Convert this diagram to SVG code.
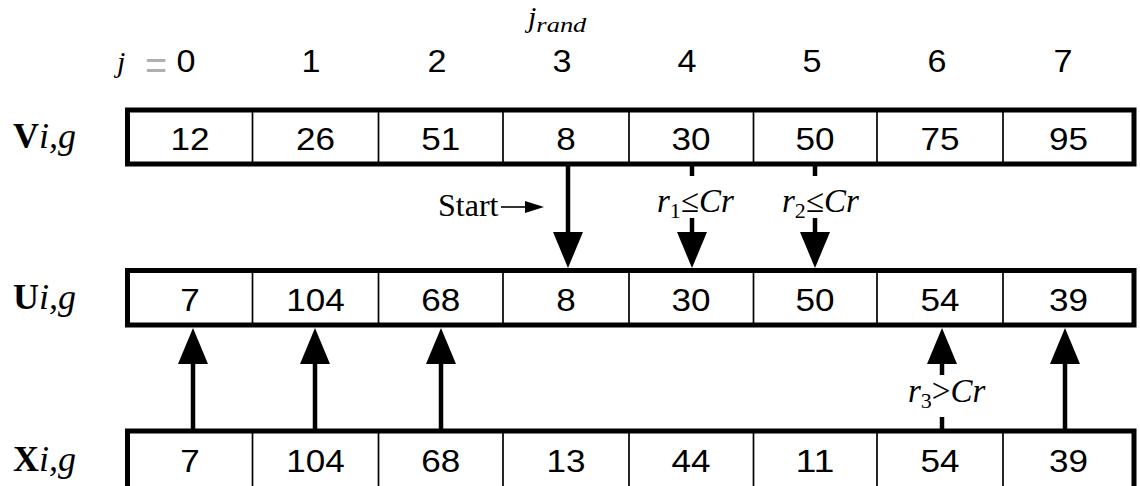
<svg xmlns="http://www.w3.org/2000/svg" width="1140" height="486" viewBox="0 0 1140 486">
  <style>
    .num { font-family: "Liberation Sans", Arial, sans-serif; font-size: 32px; fill: #000; text-anchor: middle; }
    .col { font-family: "Liberation Sans", Arial, sans-serif; font-size: 31px; fill: #000; text-anchor: middle; }
    .serif { font-family: "Liberation Serif", "Times New Roman", serif; fill: #000; }
    .it { font-style: italic; }
    .bd { font-weight: bold; }
    .frame { fill: #fff; stroke: #000; stroke-width: 5; }
    .div { stroke: #000; stroke-width: 1.7; }
    .shaft { stroke: #000; stroke-width: 4.5; fill: none; }
    .thin { stroke: #000; stroke-width: 1.6; fill: none; }
  </style>
  <defs>
    <marker id="head" viewBox="0 0 36 30" refX="4" refY="15" markerWidth="36" markerHeight="30" markerUnits="userSpaceOnUse" orient="auto">
      <path d="M0,0 L36,15 L0,30 Z" fill="#000"/>
    </marker>
    <marker id="small" viewBox="0 0 19 12" refX="2" refY="6" markerWidth="19" markerHeight="12" markerUnits="userSpaceOnUse" orient="auto">
      <path d="M0,0 L19,6 L0,12 Z" fill="#000"/>
    </marker>
  </defs>

  <!-- column indices -->
  <g id="indices">
    <text class="serif it" x="117" y="72" font-size="30">j</text>
    <text x="145" y="79" font-family="Liberation Sans, Arial, sans-serif" font-size="40" fill="#b0b0b0" textLength="22" lengthAdjust="spacingAndGlyphs">=</text>
    <text class="col" x="186" y="72" textLength="19" lengthAdjust="spacingAndGlyphs">0</text>
    <text class="col" x="311" y="72" textLength="19" lengthAdjust="spacingAndGlyphs">1</text>
    <text class="col" x="437" y="72" textLength="19" lengthAdjust="spacingAndGlyphs">2</text>
    <text class="col" x="562" y="72" textLength="19" lengthAdjust="spacingAndGlyphs">3</text>
    <text class="col" x="687" y="72" textLength="19" lengthAdjust="spacingAndGlyphs">4</text>
    <text class="col" x="812" y="72" textLength="19" lengthAdjust="spacingAndGlyphs">5</text>
    <text class="col" x="937" y="72" textLength="19" lengthAdjust="spacingAndGlyphs">6</text>
    <text class="col" x="1063" y="72" textLength="19" lengthAdjust="spacingAndGlyphs">7</text>
    <text class="serif it" x="528" y="27" font-size="30">j<tspan font-size="22" dy="5" textLength="50" lengthAdjust="spacingAndGlyphs">rand</tspan></text>
  </g>

  <!-- row V -->
  <g id="rowV">
    <text class="serif" x="13" y="148" font-size="36"><tspan class="bd">V</tspan><tspan class="it">i,g</tspan></text>
    <rect class="frame" x="127.5" y="110" width="1006.5" height="54"/>
    <path class="div" d="M252.5,110V164M378.5,110V164M503,110V164M629,110V164M753.5,110V164M877,110V164M1003,110V164"/>
    <text class="num" x="190" y="150" textLength="39" lengthAdjust="spacingAndGlyphs">12</text>
    <text class="num" x="315.5" y="150" textLength="39" lengthAdjust="spacingAndGlyphs">26</text>
    <text class="num" x="440.75" y="150" textLength="39" lengthAdjust="spacingAndGlyphs">51</text>
    <text class="num" x="566" y="150" textLength="19.5" lengthAdjust="spacingAndGlyphs">8</text>
    <text class="num" x="691" y="150" textLength="39" lengthAdjust="spacingAndGlyphs">30</text>
    <text class="num" x="815" y="150" textLength="39" lengthAdjust="spacingAndGlyphs">50</text>
    <text class="num" x="940" y="150" textLength="39" lengthAdjust="spacingAndGlyphs">75</text>
    <text class="num" x="1068.5" y="150" textLength="39" lengthAdjust="spacingAndGlyphs">95</text>
  </g>

  <!-- row U -->
  <g id="rowU">
    <text class="serif" x="13" y="309" font-size="36"><tspan class="bd">U</tspan><tspan class="it">i,g</tspan></text>
    <rect class="frame" x="127.5" y="270.5" width="1006.5" height="54.5"/>
    <path class="div" d="M252.5,270.5V325M378.5,270.5V325M503,270.5V325M629,270.5V325M753.5,270.5V325M877,270.5V325M1003,270.5V325"/>
    <text class="num" x="190" y="310.5" textLength="19.5" lengthAdjust="spacingAndGlyphs">7</text>
    <text class="num" x="315.5" y="310.5" textLength="58.5" lengthAdjust="spacingAndGlyphs">104</text>
    <text class="num" x="440.75" y="310.5" textLength="39" lengthAdjust="spacingAndGlyphs">68</text>
    <text class="num" x="566" y="310.5" textLength="19.5" lengthAdjust="spacingAndGlyphs">8</text>
    <text class="num" x="691" y="310.5" textLength="39" lengthAdjust="spacingAndGlyphs">30</text>
    <text class="num" x="815" y="310.5" textLength="39" lengthAdjust="spacingAndGlyphs">50</text>
    <text class="num" x="940" y="310.5" textLength="39" lengthAdjust="spacingAndGlyphs">54</text>
    <text class="num" x="1068.5" y="310.5" textLength="39" lengthAdjust="spacingAndGlyphs">39</text>
  </g>

  <!-- row X -->
  <g id="rowX">
    <text class="serif" x="13" y="471" font-size="36"><tspan class="bd">X</tspan><tspan class="it">i,g</tspan></text>
    <rect class="frame" x="127.5" y="431" width="1006.5" height="60"/>
    <path class="div" d="M252.5,431V491M378.5,431V491M503,431V491M629,431V491M753.5,431V491M877,431V491M1003,431V491"/>
    <text class="num" x="190" y="471.5" textLength="19.5" lengthAdjust="spacingAndGlyphs">7</text>
    <text class="num" x="315.5" y="471.5" textLength="58.5" lengthAdjust="spacingAndGlyphs">104</text>
    <text class="num" x="440.75" y="471.5" textLength="39" lengthAdjust="spacingAndGlyphs">68</text>
    <text class="num" x="566" y="471.5" textLength="39" lengthAdjust="spacingAndGlyphs">13</text>
    <text class="num" x="691" y="471.5" textLength="39" lengthAdjust="spacingAndGlyphs">44</text>
    <text class="num" x="815" y="471.5" textLength="39" lengthAdjust="spacingAndGlyphs">11</text>
    <text class="num" x="940" y="471.5" textLength="39" lengthAdjust="spacingAndGlyphs">54</text>
    <text class="num" x="1068.5" y="471.5" textLength="39" lengthAdjust="spacingAndGlyphs">39</text>
  </g>

  <!-- connectors -->
  <g id="connectors">
    <!-- V to U: start column and crossover positions -->
    <line class="shaft" x1="568" y1="166" x2="568" y2="236" marker-end="url(#head)"/>
    <line class="shaft" x1="692" y1="166" x2="692" y2="176"/>
    <line class="shaft" x1="692" y1="218" x2="692" y2="236" marker-end="url(#head)"/>
    <line class="shaft" x1="815" y1="166" x2="815" y2="176"/>
    <line class="shaft" x1="815" y1="218" x2="815" y2="236" marker-end="url(#head)"/>
    <!-- X to U: inherited positions -->
    <line class="shaft" x1="193" y1="429" x2="193" y2="360" marker-end="url(#head)"/>
    <line class="shaft" x1="315" y1="429" x2="315" y2="360" marker-end="url(#head)"/>
    <line class="shaft" x1="441" y1="429" x2="441" y2="360" marker-end="url(#head)"/>
    <line class="shaft" x1="942" y1="429" x2="942" y2="417"/>
    <line class="shaft" x1="942" y1="375" x2="942" y2="360" marker-end="url(#head)"/>
    <line class="shaft" x1="1065" y1="429" x2="1065" y2="360" marker-end="url(#head)"/>
    <!-- start pointer -->
    <line class="thin" x1="501" y1="207" x2="527" y2="207" marker-end="url(#small)"/>
  </g>

  <!-- condition labels -->
  <g id="labels">
    <text class="serif" x="438" y="216" font-size="32">Start</text>
    <text class="serif" x="657" y="212" font-size="33"><tspan class="it">r</tspan><tspan font-size="22" dy="6">1</tspan><tspan dy="-6">≤</tspan><tspan class="it">Cr</tspan></text>
    <text class="serif" x="782" y="212" font-size="33"><tspan class="it">r</tspan><tspan font-size="22" dy="6">2</tspan><tspan dy="-6">≤</tspan><tspan class="it">Cr</tspan></text>
    <text class="serif" x="908" y="402" font-size="33"><tspan class="it">r</tspan><tspan font-size="22" dy="6">3</tspan><tspan dy="-6">&gt;</tspan><tspan class="it">Cr</tspan></text>
  </g>
</svg>
